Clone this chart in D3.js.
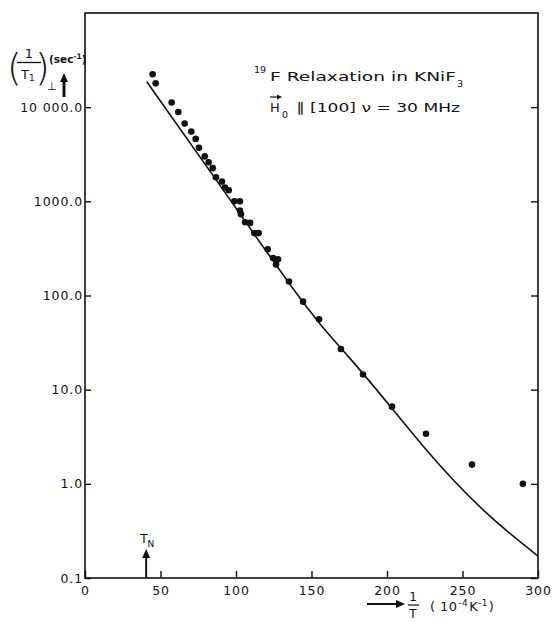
<!DOCTYPE html>
<html>
<head>
<meta charset="utf-8">
<script src="https://cdn.jsdelivr.net/npm/d3@7"></script>
<style>
  body { margin: 0; background: #fff; }
  svg text { font-family: "DejaVu Sans", sans-serif; fill: #111; }
</style>
</head>
<body>
<div id="chart"></div>
<script>
// measured points, 1/T in 10^-4 K^-1 and (1/T1) in sec^-1
let dataX = [44.8, 46.8, 57.4, 61.8, 66.0, 70.4, 73.3, 75.5, 79.3, 81.9, 84.6, 86.7, 90.7, 92.7, 95.2,
    98.9, 102.6, 102.6, 103.3, 106.0, 109.3, 112.1, 115.0, 121.0, 124.5, 127.8, 126.5,
    135.1, 144.4, 155.0, 169.5, 184.1, 203.3, 225.8, 256.3, 290.0];
let dataY = [22400, 17900, 11200, 8900, 6700, 5500, 4600, 3700, 3000, 2600, 2250, 1800, 1620, 1400, 1310,
    1000, 1000, 800, 730, 600, 590, 460, 460, 310, 250, 242, 214,
    141, 86, 56, 27, 14.5, 6.6, 3.4, 1.6, 1.0];

// theory curve
let curveX = [40.9, 87.2, 144.4, 175, 203.1, 224, 243.9, 270, 300];
let curveY = [18600, 1660, 85, 21.9, 6.38, 2.51, 1.1, 0.427, 0.171];

let xTicks = [0, 50, 100, 150, 200, 250, 300];
let yTicks = [0.1, 1, 10, 100, 1000, 10000];
let yTickLabels = ["0.1", "1.0", "10.0", "100.0", "1000.0", "10 000.0"];
let tN = 40.5;

let svgWidth = 554, svgHeight = 625;
let plot = {left: 85, right: 538, top: 13, bottom: 578};

let svg = d3.select("#chart").append("svg")
    .attr("width", svgWidth)
    .attr("height", svgHeight);

let x = d3.scaleLinear().domain([0, 300]).range([plot.left, plot.right]);
let y = d3.scaleLog().domain([0.1, 100000]).range([plot.bottom, plot.top]);

// frame
svg.append("rect")
    .attr("x", plot.left).attr("y", plot.top)
    .attr("width", plot.right - plot.left).attr("height", plot.bottom - plot.top)
    .attr("fill", "none").attr("stroke", "#111").attr("stroke-width", 1.6);

let xAxis = svg.append("g")
    .attr("transform", "translate(0," + plot.bottom + ")")
    .call(d3.axisBottom(x).tickValues(xTicks).tickSize(-7).tickPadding(8).tickFormat(d3.format("d")));

let yAxis = svg.append("g")
    .attr("transform", "translate(" + plot.left + ",0)")
    .call(d3.axisLeft(y).tickValues(yTicks).tickSize(-6).tickPadding(2)
        .tickFormat(function(d, i) { return yTickLabels[i]; }));

let yAxisR = svg.append("g")
    .attr("transform", "translate(" + plot.right + ",0)")
    .call(d3.axisRight(y).tickValues(yTicks).tickSize(-7).tickFormat(""));

[xAxis, yAxis, yAxisR].forEach(function(g) {
    g.select(".domain").remove();
    g.selectAll(".tick line").attr("stroke", "#111").attr("stroke-width", 1.4);
    g.selectAll(".tick text")
        .attr("font-family", "DejaVu Sans")
        .attr("font-size", 12.5)
        .attr("letter-spacing", 0.9)
        .attr("fill", "#111");
});

// theory line
let line = d3.line()
    .x(function(d, i) { return x(curveX[i]); })
    .y(function(d, i) { return y(curveY[i]); })
    .curve(d3.curveNatural);

svg.append("path")
    .datum(curveX)
    .attr("d", line)
    .attr("fill", "none")
    .attr("stroke", "#111")
    .attr("stroke-width", 1.6);

svg.selectAll(".dot")
    .data(dataX)
    .enter()
    .append("circle")
    .attr("class", "dot")
    .attr("cx", function(d) { return x(d); })
    .attr("cy", function(d, i) { return y(dataY[i]); })
    .attr("r", 3.3)
    .attr("fill", "#111");

// arrows
function arrowUp(cx, yTip, yBase, w) {
    svg.append("line")
        .attr("x1", cx).attr("x2", cx)
        .attr("y1", yTip + 6).attr("y2", yBase)
        .attr("stroke", "#111").attr("stroke-width", w);
    svg.append("path")
        .attr("d", "M" + (cx - 4) + "," + (yTip + 9) + "L" + cx + "," + yTip + "L" + (cx + 4) + "," + (yTip + 9) + "Z")
        .attr("fill", "#111");
}

// T_N marker
arrowUp(x(tN), 549, plot.bottom, 2);
let tn = svg.append("text").attr("x", x(tN) - 6).attr("y", 543).attr("font-size", 12);
tn.append("tspan").text("T");
tn.append("tspan").attr("font-size", 9).attr("dy", 4).text("N");

// y label
svg.append("text").attr("x", 7).attr("y", 80).attr("font-size", 38).attr("font-weight", 200).text("(");
svg.append("text").attr("x", 35).attr("y", 80).attr("font-size", 38).attr("font-weight", 200).text(")");
svg.append("text").attr("x", 29).attr("y", 58).attr("font-size", 13).attr("text-anchor", "middle").text("1");
svg.append("line").attr("x1", 17).attr("x2", 41).attr("y1", 62.5).attr("y2", 62.5)
    .attr("stroke", "#111").attr("stroke-width", 1.3);
let t1 = svg.append("text").attr("x", 21).attr("y", 79).attr("font-size", 13);
t1.append("tspan").text("T");
t1.append("tspan").attr("font-size", 9).attr("dy", 2).text("1");
svg.append("text").attr("x", 47).attr("y", 90).attr("font-size", 11).text("⊥");
let sec = svg.append("text").attr("x", 49).attr("y", 63).attr("font-size", 10.5).attr("font-weight", "bold");
sec.append("tspan").text("(sec");
sec.append("tspan").attr("font-size", 7.5).attr("dy", -4).text("-1");
sec.append("tspan").attr("dy", 4).text(")");
arrowUp(64, 73, 97, 3);

// x label
svg.append("line").attr("x1", 367).attr("x2", 398).attr("y1", 604).attr("y2", 604)
    .attr("stroke", "#111").attr("stroke-width", 2);
svg.append("path").attr("d", "M396,600L405,604L396,608Z").attr("fill", "#111");
svg.append("text").attr("x", 413).attr("y", 601).attr("font-size", 12).attr("text-anchor", "middle").text("1");
svg.append("line").attr("x1", 408).attr("x2", 419).attr("y1", 605).attr("y2", 605)
    .attr("stroke", "#111").attr("stroke-width", 1.2);
svg.append("text").attr("x", 413).attr("y", 618).attr("font-size", 12).attr("text-anchor", "middle").text("T");
let xl = svg.append("text").attr("x", 430).attr("y", 611).attr("font-size", 13).attr("letter-spacing", 0.4);
xl.append("tspan").text("( 10");
xl.append("tspan").attr("font-size", 9).attr("dy", -5).attr("dx", 1).text("-4");
xl.append("tspan").attr("dy", 5).attr("dx", 1).text("K");
xl.append("tspan").attr("font-size", 9).attr("dy", -5).text("-1");
xl.append("tspan").attr("dy", 5).attr("dx", 1).text(")");

// title
svg.append("text").attr("x", 254).attr("y", 73).attr("font-size", 9.5).text("19");
svg.append("text").attr("x", 270).attr("y", 81).attr("font-size", 13)
    .attr("textLength", 186).attr("lengthAdjust", "spacingAndGlyphs")
    .text("F Relaxation  in  KNiF");
svg.append("text").attr("x", 457).attr("y", 87).attr("font-size", 9.5).text("3");

svg.append("text").attr("x", 270).attr("y", 112).attr("font-size", 13).text("H");
svg.append("text").attr("x", 282).attr("y", 118).attr("font-size", 9.5).text("0");
svg.append("text").attr("x", 296).attr("y", 112).attr("font-size", 13)
    .attr("textLength", 164).attr("lengthAdjust", "spacingAndGlyphs")
    .text("\u2225 [100] \u03bd = 30 MHz");
// vector arrow over H
svg.append("line").attr("x1", 270).attr("x2", 279).attr("y1", 97).attr("y2", 97)
    .attr("stroke", "#111").attr("stroke-width", 1.2);
svg.append("path").attr("d", "M277,94.5L282,97L277,99.5Z").attr("fill", "#111");
</script>
</body>
</html>
